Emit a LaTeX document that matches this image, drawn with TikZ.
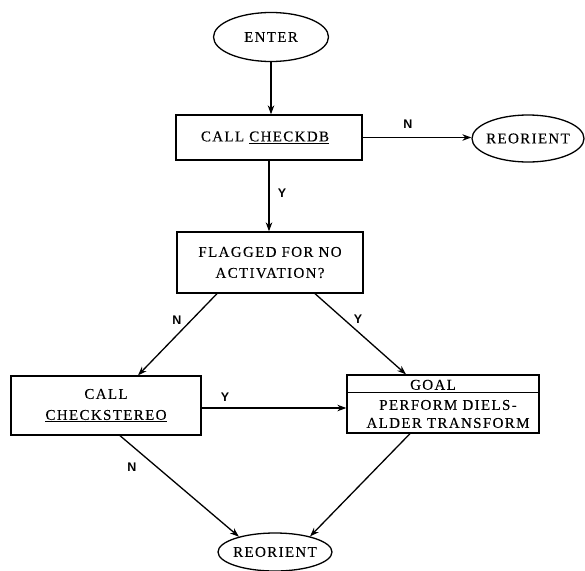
\documentclass[tikz,border=0pt]{standalone}
\usepackage{fontspec}
\setmainfont{Liberation Serif}[LetterSpace=9,FakeBold=0.15]
\newfontfamily\labelfont{Liberation Sans}
\usetikzlibrary{shapes.geometric,arrows.meta,calc}

\begin{document}
\begin{tikzpicture}[x=1pt,y=-1pt,
  every node/.style={font=\fontsize{15}{21}\selectfont, inner sep=0pt},
  terminal/.style={draw, ellipse, line width=1.3pt},
  stepbox/.style={draw, rectangle, line width=1.3pt, align=center},
  flow/.style={line width=1.3pt, -{Stealth[length=9pt,width=6.5pt]}},
  lbl/.style={font=\labelfont\bfseries\fontsize{12.5}{14}\selectfont}]
\useasboundingbox (0,0) rectangle (585,570);

% terminals
\node[terminal, minimum width=115pt, minimum height=49pt] (enter) at (271,37) {\makebox[0pt]{ENTER}};
\node[terminal, minimum width=112pt, minimum height=47pt] (reor1) at (528,138.5) {\makebox[0pt]{REORIENT}};
\node[terminal, minimum width=114pt, minimum height=38pt] (reor2) at (275,552) {\makebox[0pt]{REORIENT}};

% process and decision boxes
\node[stepbox, minimum width=186pt, minimum height=45pt] (checkdb) at (269,137.5)
  {\hspace*{-8pt}CALL \underline{CHECKDB}};
\node[stepbox, minimum width=186pt, minimum height=61pt] (flag) at (270,262.5)
  {FLAGGED FOR NO\\ACTIVATION?};
\node[stepbox, minimum width=190pt, minimum height=59pt] (stereo) at (106,405.5)
  {CALL\\\underline{CHECKSTEREO}};

% goal box with title compartment
\node[stepbox, minimum width=192pt, minimum height=58pt] (goal) at (443,404) {};
\draw[line width=1.3pt] ($(goal.north west)+(0,18)$) -- ($(goal.north east)+(0,18)$);
\node (goaltitle) at ($(goal.north)+(-10,10.5)$) {GOAL};
\node[align=center, font=\fontsize{15}{18}\selectfont] (goalbody) at ($(goal.center)+(5,10)$)
  {PERFORM DIELS-\\ALDER TRANSFORM};

% connectors
\draw[flow] (enter.south) -- (enter.south |- checkdb.north);
\draw[flow] (checkdb.east) -- (reor1.west |- checkdb.east);
\draw[flow] (checkdb.south) -- (checkdb.south |- flag.north);
\draw[flow] ($(flag.south)+(-53,0)$) -- ($(stereo.north)+(32,0)$);
\draw[flow] ($(flag.south)+(45,0)$) -- ($(goal.north)+(-37,0)$);
\draw[flow] ($(stereo.east)+(0,2.5)$) -- ($(goal.west)+(0,4)$);
\draw[flow] ($(stereo.south)+(14,0)$) -- (reor2.157);
\draw[flow] ($(goal.south)+(-33,0)$) -- (reor2.24);

% branch labels
\node[lbl] (lN1) at (408,124) {N};
\node[lbl] (lY1) at (282,193) {Y};
\node[lbl] (lN2) at (177,320) {N};
\node[lbl] (lY2) at (358,319) {Y};
\node[lbl] (lY3) at (225,397) {Y};
\node[lbl] (lN3) at (132,467) {N};
\end{tikzpicture}
\end{document}
